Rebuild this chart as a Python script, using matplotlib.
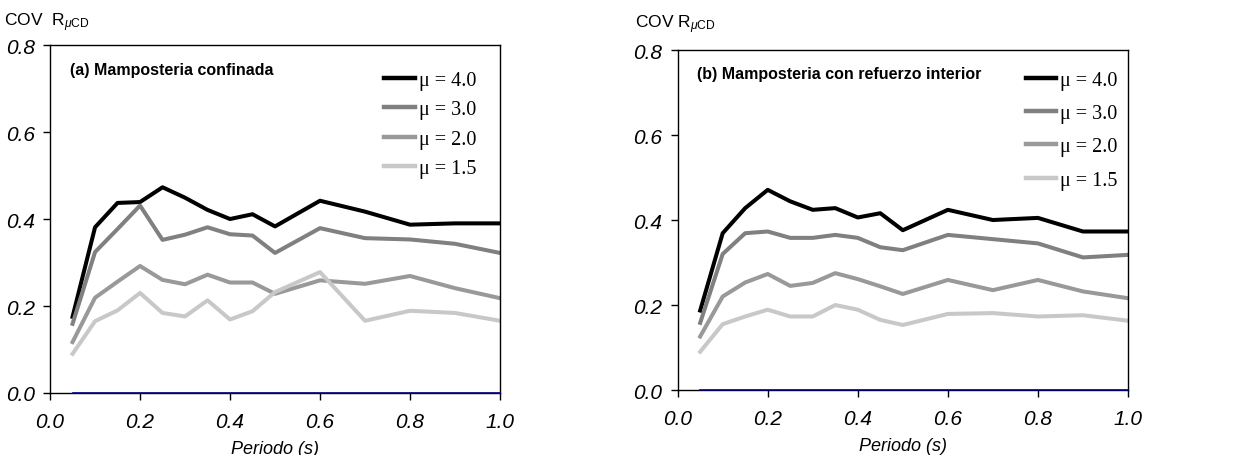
import numpy as np
import matplotlib
matplotlib.use("Agg")
import matplotlib.pyplot as plt


# Datos

periodo = [0.05, 0.1, 0.15, 0.2, 0.25, 0.3, 0.35, 0.4, 0.45, 0.5, 0.6, 0.7, 0.8, 0.9, 1.0]
etiquetas = ["\u03bc = 4.0", "\u03bc = 3.0", "\u03bc = 2.0", "\u03bc = 1.5"]

# (a) Mamposteria confinada
cov_a_40 = [0.175, 0.381, 0.437, 0.439, 0.473, 0.449, 0.421, 0.400, 0.411, 0.383, 0.442, 0.417, 0.387, 0.390, 0.390]
cov_a_30 = [0.159, 0.324, 0.377, 0.431, 0.352, 0.364, 0.381, 0.365, 0.362, 0.322, 0.379, 0.356, 0.353, 0.343, 0.322]
cov_a_20 = [0.117, 0.219, 0.256, 0.292, 0.260, 0.250, 0.272, 0.254, 0.254, 0.228, 0.259, 0.251, 0.269, 0.241, 0.218]
cov_a_15 = [0.090, 0.165, 0.190, 0.230, 0.184, 0.176, 0.213, 0.169, 0.188, 0.232, 0.278, 0.166, 0.189, 0.184, 0.166]

# (b) Mamposteria con refuerzo interior
cov_b_40 = [0.187, 0.369, 0.428, 0.471, 0.444, 0.424, 0.428, 0.406, 0.416, 0.376, 0.424, 0.400, 0.405, 0.373, 0.373]
cov_b_30 = [0.158, 0.320, 0.369, 0.373, 0.358, 0.358, 0.365, 0.358, 0.336, 0.329, 0.365, 0.355, 0.345, 0.312, 0.318]
cov_b_20 = [0.126, 0.220, 0.253, 0.273, 0.245, 0.252, 0.275, 0.261, 0.244, 0.226, 0.259, 0.235, 0.259, 0.232, 0.216]
cov_b_15 = [0.090, 0.155, 0.173, 0.189, 0.173, 0.173, 0.200, 0.189, 0.165, 0.153, 0.179, 0.181, 0.173, 0.176, 0.163]

# mu = 1.0 -> COV nulo (linea azul sobre el eje)
cov_10 = [0.0] * len(periodo)

COLORES = ["#000000", "#808080", "#999999", "#c8c8c8"]
FUENTE = "Liberation Sans"
SERIF = "Liberation Serif"


def panel(fig, rect, series, titulo, pos_cov, txt_cov, leg_anchor, leg_sp):
    ax = fig.add_axes(rect)
    ax.plot(periodo, cov_10, color="#000080", lw=1.2, zorder=5, clip_on=False)
    for y, c, lab in zip(series, COLORES, etiquetas):
        ax.plot(periodo, y, color=c, lw=2.9, label=lab)

    ax.set_xlim(0, 1.0)
    ax.set_ylim(0, 0.8)
    ax.set_xticks(np.arange(0, 1.01, 0.2))
    ax.set_yticks(np.arange(0, 0.81, 0.2))
    ax.set_xticklabels([f"{v:.1f}" for v in np.arange(0, 1.01, 0.2)])
    ax.set_yticklabels([f"{v:.1f}" for v in np.arange(0, 0.81, 0.2)])
    ax.tick_params(direction="out", length=5, width=1, labelsize=15)
    ax.tick_params(axis="x", pad=9)
    ax.tick_params(axis="y", pad=6)
    for t in ax.get_xticklabels() + ax.get_yticklabels():
        t.set_fontfamily(FUENTE)
        t.set_fontstyle("italic")
    for s in ax.spines.values():
        s.set_linewidth(1)

    ax.set_xlabel("Periodo (s)", fontsize=13, fontstyle="italic", family=FUENTE, labelpad=6)
    ax.text(0.044, 0.93, titulo, transform=ax.transAxes, fontsize=11.5,
            fontweight="bold", family=FUENTE, va="center")
    fig.text(pos_cov[0], pos_cov[1], txt_cov, fontsize=12.5, family=FUENTE, va="center")

    leg = ax.legend(loc="upper left", bbox_to_anchor=leg_anchor, frameon=False,
                    prop={"family": SERIF, "size": 14.5}, handlelength=1.5,
                    handletextpad=0.2, labelspacing=leg_sp, borderaxespad=0)
    for h in leg.get_lines():
        h.set_linewidth(3.2)
    return ax


fig = plt.figure(figsize=(12.45, 4.56), dpi=100)
plt.rcParams["mathtext.fontset"] = "custom"
plt.rcParams["mathtext.rm"] = FUENTE
plt.rcParams["mathtext.it"] = FUENTE + ":italic"

panel(fig, [0.0402, 0.136, 0.3614, 0.763], [cov_a_40, cov_a_30, cov_a_20, cov_a_15],
      "(a) Mamposteria confinada", (0.003, 0.95), r"COV  R$_{\mu\mathrm{CD}}$",
      (0.725, 0.948), 0.5)
panel(fig, [0.5443, 0.1425, 0.3617, 0.7456], [cov_b_40, cov_b_30, cov_b_20, cov_b_15],
      "(b) Mamposteria con refuerzo interior", (0.51, 0.945), r"COV R$_{\mu\mathrm{CD}}$",
      (0.755, 0.962), 0.7)

fig.savefig("out.png", dpi=100)
